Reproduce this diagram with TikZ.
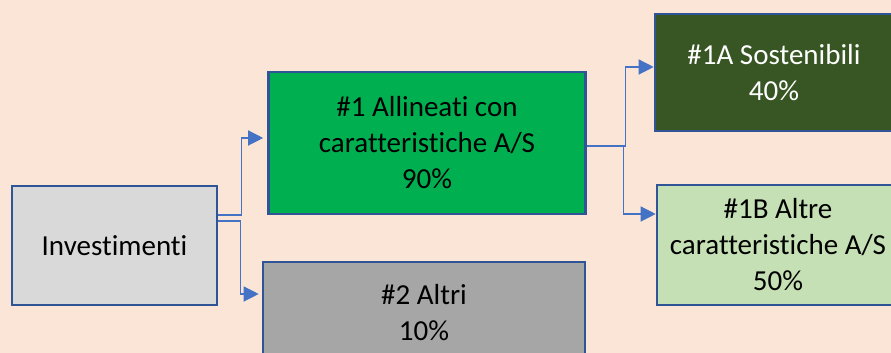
\documentclass[tikz,border=0pt]{standalone}
\usepackage{fontspec}
\setmainfont[Ligatures=NoCommon,RawFeature=-liga]{Carlito}
\usetikzlibrary{arrows.meta}
\definecolor{BgClr}{HTML}{FBE5D6}
\definecolor{EdgeClr}{HTML}{2F5597}
\definecolor{LinkClr}{HTML}{4472C4}
\definecolor{GreyLt}{HTML}{D9D9D9}
\definecolor{GreyDk}{HTML}{A6A6A6}
\definecolor{GreenMid}{HTML}{00B050}
\definecolor{GreenDk}{HTML}{375623}
\definecolor{GreenLt}{HTML}{C5E0B4}

\begin{document}
\begin{tikzpicture}[x=1pt,y=1pt,
  box/.style={draw=EdgeClr,line width=2.6pt,inner sep=0pt,align=center,
    font=\fontsize{29}{36}\selectfont},
  link/.style={draw=LinkClr,line width=1.3pt,-{Triangle[length=15pt,width=15pt]}}]
\useasboundingbox (0,0) rectangle (891,353);
\fill[BgClr] (0,0) rectangle (891,353);
\clip (0,0) rectangle (891,353);

\node[box,fill=GreyLt,minimum width=205,minimum height=119] (inv) at (114.5,107.5) {Investimenti};
\node[box,fill=GreenMid,minimum width=317,minimum height=142] (allin) at (427,210)
  {\#1 Allineati con\\caratteristiche A/S\\90\%};
\node[box,fill=GreyDk,minimum width=322,minimum height=102] (altri) at (424,40)
  {\#2 Altri\\10\%};
\node[box,fill=GreenDk,text=white,minimum width=238,minimum height=117] (sost) at (774,280.5)
  {\#1A Sostenibili\\40\%};
\node[box,fill=GreenLt,minimum width=242,minimum height=120] (altre) at (778,108)
  {\#1B Altre\\caratteristiche A/S\\50\%};

% frecce
\draw[link] ([yshift=30.5pt]inv.east) -- ++(23,0) |- ([yshift=5pt,xshift=-4pt]allin.west);
\draw[link] ([yshift=24.5pt]inv.east) -- ++(22,0) |- ([yshift=19pt,xshift=-3pt]altri.west);
\draw[link] ([yshift=-3pt]allin.east) -- ++(38.5,0) |- ([yshift=5.5pt]sost.west);
\draw[link] ([yshift=-3pt]allin.east) -- ++(36.5,0) |- ([yshift=31pt]altre.west);

\end{tikzpicture}
\end{document}
